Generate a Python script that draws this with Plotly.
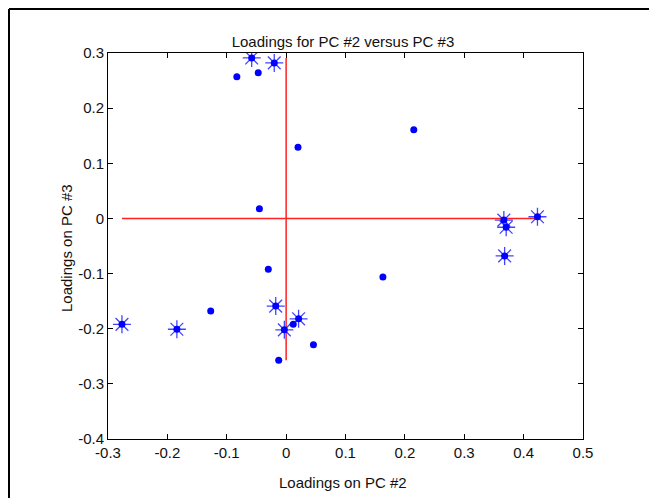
import plotly.graph_objects as go

# Loadings shown as plain dots
pc2_dot = [-0.083, -0.047, 0.020, -0.045, -0.127, -0.030, 0.012, 0.046, -0.0125, 0.215, 0.163]
pc3_dot = [0.257, 0.264, 0.129, 0.0175, -0.168, -0.092, -0.192, -0.229, -0.257, 0.161, -0.106]

# Loadings highlighted with an asterisk
pc2_star = [-0.058, -0.020, -0.2765, -0.184, -0.0175, -0.003, 0.021, 0.3667, 0.3706, 0.368, 0.4233]
pc3_star = [0.291, 0.282, -0.192, -0.201, -0.159, -0.202, -0.182, -0.003, -0.016, -0.068, 0.003]

x_ticks = [-0.3, -0.2, -0.1, 0, 0.1, 0.2, 0.3, 0.4, 0.5]
x_tick_labels = ["-0.3", "-0.2", "-0.1", "0", "0.1", "0.2", "0.3", "0.4", "0.5"]
y_ticks = [-0.4, -0.3, -0.2, -0.1, 0, 0.1, 0.2, 0.3]
y_tick_labels = ["-0.4", "-0.3", "-0.2", "-0.1", "0", "0.1", "0.2", "0.3"]

title_text = "Loadings for PC #2 versus PC #3"
x_label = "Loadings on PC #2"
y_label = "Loadings on PC #3"

all_x = pc2_dot + pc2_star
all_y = pc3_dot + pc3_star

FONT = "Liberation Sans, Arial, sans-serif"
FS = 15
OFF = 8  # page body margin
W, H = 657 - OFF, 498 - OFF
# plot area in page pixels: x 108..583, y 53..439
L, R, T, B = 108 - OFF, 657 - 583, 53 - OFF, 498 - 439
pw, ph = W - L - R, H - T - B


def px(xp):
    return (xp - OFF - L) / pw


def py(yp):
    return (H - B - (yp - OFF)) / ph


fig = go.Figure()

# red reference lines spanning the data range
fig.add_trace(go.Scatter(x=[min(all_x), max(all_x)], y=[0, 0], mode="lines",
                         line=dict(color="#FF2020", width=1.5), hoverinfo="skip"))
fig.add_trace(go.Scatter(x=[0, 0], y=[min(all_y), max(all_y)], mode="lines",
                         line=dict(color="#FF2020", width=1.5), hoverinfo="skip"))

# asterisks
fig.add_trace(go.Scatter(x=pc2_star, y=pc3_star, mode="markers",
                         marker=dict(symbol="asterisk-open", size=15, color="rgba(20,20,255,0.8)",
                                     line=dict(color="rgba(20,20,255,0.8)", width=1.3))))
# dots (all points)
fig.add_trace(go.Scatter(x=all_x, y=all_y, mode="markers",
                         marker=dict(symbol="circle", size=7, color="#0000FF",
                                     line=dict(width=0))))

axis_common = dict(showgrid=False, zeroline=False, showline=True, linecolor="black",
                   linewidth=1, mirror="ticks", ticks="inside", ticklen=5,
                   tickcolor="black", tickfont=dict(family=FONT, size=FS, color="#111"))

fig.update_xaxes(range=[-0.3, 0.5], tickvals=x_ticks, ticktext=x_tick_labels, **axis_common)
fig.update_yaxes(range=[-0.4, 0.3], tickvals=y_ticks, ticktext=y_tick_labels, **axis_common)

fig.update_layout(
    width=W, height=H,
    margin=dict(l=L, r=R, t=T, b=B),
    paper_bgcolor="white", plot_bgcolor="white",
    showlegend=False,
    title=dict(text=title_text, x=px(343), xref="paper", xanchor="center",
               y=1 - (42 - OFF) / H, yref="container", yanchor="middle",
               font=dict(family=FONT, size=FS, color="#111")),
    annotations=[
        dict(text=x_label, xref="paper", yref="paper", x=px(343),
             y=py(482), xanchor="center", yanchor="middle", showarrow=False,
             font=dict(family=FONT, size=FS, color="#111")),
        dict(text=y_label, xref="paper", yref="paper", x=px(66),
             y=py(248), xanchor="center", yanchor="middle", showarrow=False,
             textangle=-90, font=dict(family=FONT, size=FS, color="#111")),
    ],
    shapes=[
        dict(type="line", xref="paper", yref="paper", x0=px(9), x1=px(657),
             y0=py(9), y1=py(9), line=dict(color="black", width=2)),
        dict(type="line", xref="paper", yref="paper", x0=px(9), x1=px(9),
             y0=py(9), y1=py(498), line=dict(color="black", width=2)),
    ],
)

fig.write_html("out.html")
